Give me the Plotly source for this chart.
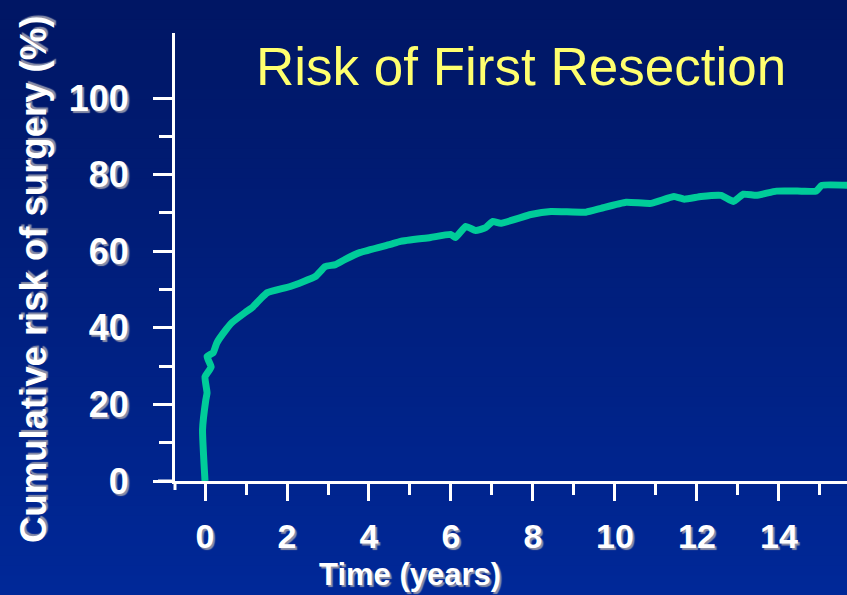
import plotly.graph_objects as go

# Data
time_years = [0.0, -0.06, 0.02, 0.05, 0.0, 0.15, 0.05, 0.2, 0.29, 0.51, 0.66, 0.98, 1.17, 1.34, 1.52,
              2.08, 2.69, 2.93, 3.18, 3.42, 3.79, 4.52, 4.77, 5.5, 5.99, 6.11, 6.36, 6.6, 6.85,
              7.02, 7.21, 7.95, 8.44, 9.29, 9.66, 10.27, 10.88, 11.44, 11.69, 12.1, 12.59, 12.89,
              13.13, 13.45, 13.94, 14.55, 14.91, 15.04, 15.7]
risk_pct = [0.0, 13.4, 21.2, 23.0, 27.2, 29.8, 32.5, 33.5, 36.1, 39.5, 41.4, 44.0, 45.5, 47.4, 49.2,
            50.8, 53.4, 56.0, 56.5, 57.9, 59.7, 61.8, 62.6, 63.6, 64.4, 63.6, 66.5, 65.4, 66.2,
            67.8, 67.3, 69.6, 70.4, 70.2, 71.2, 72.8, 72.5, 74.3, 73.6, 74.3, 74.6, 73.0,
            74.9, 74.6, 75.7, 75.7, 75.7, 77.2, 77.2]
x_ticks = [0, 2, 4, 6, 8, 10, 12, 14]
x_minor = [1, 3, 5, 7, 9, 11, 13, 15]
y_ticks = [0, 20, 40, 60, 80, 100]
y_minor = [10, 30, 50, 70, 90]
title_text = "Risk of First Resection"
x_title = "Time (years)"
y_title = "Cumulative risk of surgery (%)"

W, H = 847, 595
L, R, T, B = 175, 0, 33, 114
PW, PH = W - L - R, H - T - B

def px_to_paper_x(px):
    return (px - L) / PW

def px_to_paper_y(py):
    return (H - B - py) / PH

shadow = "2px 2px 1px #8a8fa8"
FONT = "Liberation Sans, Arial, sans-serif"

fig = go.Figure()
fig.add_trace(go.Scatter(
    x=time_years, y=risk_pct, mode="lines",
    line=dict(color="#00CC99", width=7, shape="spline", smoothing=0.4),
    hoverinfo="skip", showlegend=False,
))

# gradient background
shapes = []
n = 60
top = (0, 22, 100)
bot = (0, 40, 152)
for i in range(n):
    f = i / (n - 1)
    c = tuple(int(round(top[k] + (bot[k] - top[k]) * f)) for k in range(3))
    y0 = px_to_paper_y(H * i / n)
    y1 = px_to_paper_y(H * (i + 1) / n + 1)
    shapes.append(dict(type="rect", xref="paper", yref="paper",
                       x0=px_to_paper_x(0), x1=px_to_paper_x(W), y0=y1, y1=y0,
                       fillcolor="rgb(%d,%d,%d)" % c, line=dict(width=0), layer="below"))
# axis line extensions
shapes.append(dict(type="line", xref="paper", yref="paper",
                   x0=px_to_paper_x(158), x1=0, y0=0, y1=0,
                   line=dict(color="white", width=3), layer="above"))
shapes.append(dict(type="line", xref="paper", yref="paper",
                   x0=0, x1=0, y0=px_to_paper_y(490), y1=0,
                   line=dict(color="white", width=3), layer="above"))

fig.update_layout(
    width=W, height=H,
    margin=dict(l=L, r=R, t=T, b=B, pad=0),
    paper_bgcolor="rgb(0,22,100)",
    plot_bgcolor="rgba(0,0,0,0)",
    shapes=shapes,
    xaxis=dict(range=[-0.732, 15.66], showgrid=False, zeroline=False,
               showline=True, linecolor="white", linewidth=3,
               tickvals=x_ticks, ticks="outside", ticklen=17, tickwidth=2.5, tickcolor="white",
               ticklabelstandoff=6,
               tickfont=dict(family=FONT, size=34, color="white", weight="bold", shadow=shadow),
               minor=dict(tickvals=x_minor, ticks="outside", ticklen=11, tickwidth=2.5, tickcolor="white"),
               fixedrange=True),
    yaxis=dict(range=[0, 117.0], showgrid=False, zeroline=False,
               showline=True, linecolor="white", linewidth=3,
               tickvals=y_ticks, ticks="outside", ticklen=19, tickwidth=2.5, tickcolor="white",
               ticklabelstandoff=17,
               tickfont=dict(family=FONT, size=36, color="white", weight="bold", shadow=shadow),
               minor=dict(tickvals=y_minor, ticks="outside", ticklen=13, tickwidth=2.5, tickcolor="white"),
               fixedrange=True),
    annotations=[
        dict(text=title_text, xref="paper", yref="paper",
             x=px_to_paper_x(521), y=px_to_paper_y(66), xanchor="center", yanchor="middle",
             showarrow=False, font=dict(family=FONT, size=53, color="#FFFF6E")),
        dict(text=x_title, xref="paper", yref="paper",
             x=px_to_paper_x(410), y=px_to_paper_y(574), xanchor="center", yanchor="middle",
             showarrow=False, font=dict(family=FONT, size=31, color="white", weight="bold", shadow=shadow)),
        dict(text=y_title, xref="paper", yref="paper", textangle=-90,
             x=px_to_paper_x(33), y=px_to_paper_y(280), xanchor="center", yanchor="middle",
             showarrow=False, font=dict(family=FONT, size=36.5, color="white", weight="bold", shadow=shadow)),
    ],
)

fig.write_html("out.html")
